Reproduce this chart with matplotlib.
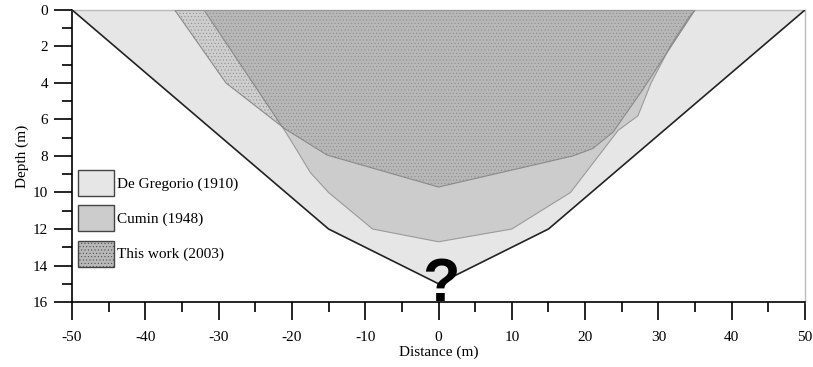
import matplotlib.pyplot as plt
from matplotlib.patches import Patch
from matplotlib.ticker import MultipleLocator

plt.rcParams['font.family'] = 'serif'
plt.rcParams['font.serif'] = ['Liberation Serif']
plt.rcParams['axes.unicode_minus'] = False
plt.rcParams['hatch.linewidth'] = 0.35

# cross-section profiles: distance (m) vs depth (m)
dg_x = [-50, -15, 0, 15, 50]
dg_depth = [0, 12, 15, 12, 0]

cumin_x = [-32, -21, -19.3, -17.5, -15, -12, -9, 0, 10, 18, 24.5, 27.2, 29, 31.6, 34, 35]
cumin_depth = [0, 6.6, 7.7, 8.9, 10, 11, 12, 12.7, 12, 10, 6.6, 5.8, 4, 2, 0.5, 0]

tw_x = [-36, -29, -21, -15.2, 0, 18.3, 21, 23.8, 27.8, 35]
tw_depth = [0, 4, 6.5, 7.95, 9.7, 8, 7.6, 6.7, 4.4, 0]

labels = ['De Gregorio (1910)', 'Cumin (1948)', 'This work (2003)']

fig = plt.figure(figsize=(8.13, 3.67), dpi=100)
ax = fig.add_axes([0.0886, 0.177, 0.9016, 0.796])

ax.fill(dg_x, dg_depth, facecolor='#e6e6e6', edgecolor='none', zorder=1)
ax.plot(dg_x, dg_depth, color='#222222', lw=1.2, zorder=4)
ax.fill(cumin_x, cumin_depth, facecolor='#cccccc', edgecolor='#9a9a9a', lw=0.8, zorder=2)
ax.fill(tw_x, tw_depth, facecolor=(0, 0, 0, 0.1), edgecolor='#8a8a8a',
        hatch='.....', lw=0.8, zorder=3)

ax.text(0.3, 15.95, '?', fontsize=44, fontweight='bold', family='Liberation Sans',
        ha='center', va='baseline', zorder=5)

ax.set_xlim(-50, 50)
ax.set_ylim(16, 0)
ax.xaxis.set_major_locator(MultipleLocator(10))
ax.xaxis.set_minor_locator(MultipleLocator(5))
ax.yaxis.set_major_locator(MultipleLocator(2))
ax.yaxis.set_minor_locator(MultipleLocator(1))
ax.tick_params(which='both', direction='out', width=1.2, labelsize=11)
ax.tick_params(which='major', length=13)
ax.tick_params(which='minor', length=7)
ax.tick_params(axis='x', pad=8)
ax.tick_params(axis='y', pad=4)

for side in ['top', 'right']:
    ax.spines[side].set_color('#bbbbbb')
    ax.spines[side].set_linewidth(1)
for side in ['left', 'bottom']:
    ax.spines[side].set_linewidth(1.2)

ax.set_xlabel('Distance (m)', fontsize=11, labelpad=1)
ax.set_ylabel('Depth (m)', fontsize=11, labelpad=3)

handles = [
    Patch(facecolor='#e6e6e6', edgecolor='#444444', lw=1),
    Patch(facecolor='#cccccc', edgecolor='#444444', lw=1),
    Patch(facecolor='#b8b8b8', edgecolor='#444444', lw=1, hatch='.....'),
]
ax.legend(handles, labels, loc='upper left', bbox_to_anchor=(0.008, 0.452),
          frameon=False, fontsize=11, borderpad=0, borderaxespad=0,
          handlelength=2.35, handleheight=2.25, handletextpad=0.2,
          labelspacing=0.6)

fig.savefig('out.png', dpi=100)
